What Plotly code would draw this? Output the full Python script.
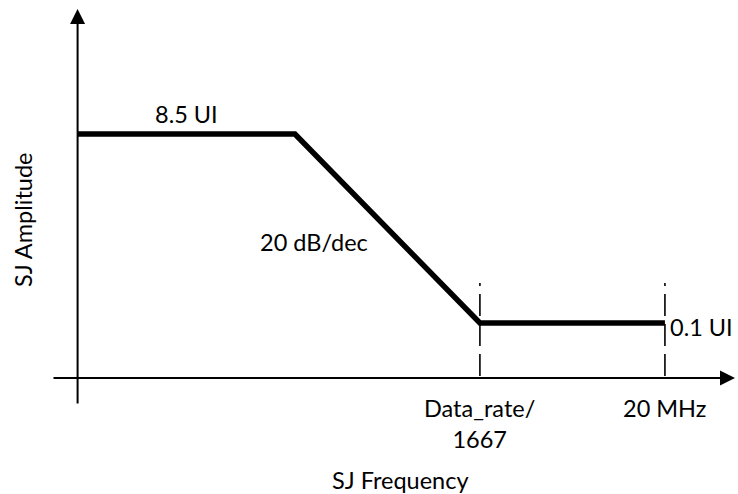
import math
import plotly.graph_objects as go

# ---- schematic data (SJ tolerance mask) ----
freq_hz = [15, 2.77e3, 2.353e5, 2.0e7]      # breakpoints of the mask
amp_ui = [8.5, 8.5, 0.1, 0.1]               # SJ amplitude in UI
corner_freqs = [freq_hz[2], freq_hz[3]]     # marked corner frequencies
corner_labels = ["Data_rate/<br>1667", "20 MHz"]
level_labels = ["8.5 UI", "0.1 UI"]
slope_label = "20 dB/dec"
x_title = "SJ Frequency"
y_title = "SJ Amplitude"

W, H = 738, 494
XR = [0.367, 8.063]     # log10 range of x axis (full figure width)
YR = [-2.745, 2.297]    # log10 range of y axis (full figure height)


def lx(px):
    return XR[0] + px / W * (XR[1] - XR[0])


def ly(py):
    return YR[1] - py / H * (YR[1] - YR[0])


FONT = dict(family="Lato, Carlito, Calibri, sans-serif", size=23.5, color="black")

axis_y_level = 10 ** ly(378)
dash_top = 10 ** ly(283)

fig = go.Figure()

# dashed corner markers
for f in corner_freqs:
    fig.add_trace(go.Scatter(
        x=[f, f], y=[dash_top, axis_y_level], mode="lines",
        line=dict(color="black", width=1.6, dash="3px,8px,22px,8px,22px,8px,22px"),
        hoverinfo="skip", showlegend=False))

# mask curve
fig.add_trace(go.Scatter(
    x=freq_hz, y=amp_ui, mode="lines",
    line=dict(color="black", width=5.5),
    hoverinfo="skip", showlegend=False))

ann = []
# axes arrows
x0 = math.log10(freq_hz[0])
ann.append(dict(x=x0, y=ly(9), ax=x0, ay=ly(405), xref="x", yref="y",
                axref="x", ayref="y", text="", showarrow=True,
                arrowhead=2, arrowsize=1.5, arrowwidth=2, arrowcolor="black"))
ann.append(dict(x=lx(735), y=ly(378), ax=lx(52), ay=ly(378), xref="x", yref="y",
                axref="x", ayref="y", text="", showarrow=True,
                arrowhead=2, arrowsize=1.5, arrowwidth=2, arrowcolor="black"))

# level labels
ann.append(dict(x=(math.log10(freq_hz[0]) + math.log10(freq_hz[1])) / 2,
                y=math.log10(amp_ui[0]), xref="x", yref="y",
                text=level_labels[0], showarrow=False, yshift=20, font=FONT))
ann.append(dict(x=math.log10(freq_hz[3]), y=math.log10(amp_ui[3]),
                xref="x", yref="y", text=level_labels[1], showarrow=False,
                xanchor="left", xshift=3, yshift=-4, font=FONT))
# slope label
ann.append(dict(x=lx(314), y=ly(242), xref="x", yref="y", text=slope_label,
                showarrow=False, font=FONT))
# corner labels
for f, t in zip(corner_freqs, corner_labels):
    ann.append(dict(x=math.log10(f), y=ly(378), xref="x", yref="y", text=t,
                    showarrow=False, yanchor="top", yshift=-14, font=FONT))
# axis titles
ann.append(dict(x=lx(400), y=ly(480), xref="x", yref="y", text=x_title,
                showarrow=False, font=FONT))
ann.append(dict(x=lx(23), y=ly(220), xref="x", yref="y", text=y_title,
                showarrow=False, textangle=-90, font=FONT))

fig.update_layout(
    width=W, height=H,
    margin=dict(l=0, r=0, t=0, b=0),
    paper_bgcolor="white", plot_bgcolor="white",
    xaxis=dict(type="log", range=XR, visible=False, fixedrange=True),
    yaxis=dict(type="log", range=YR, visible=False, fixedrange=True),
    annotations=ann,
    showlegend=False,
)

fig.write_html("out.html", config={"displayModeBar": False},
               post_script="document.body.style.margin='0';document.body.style.overflow='hidden';")
